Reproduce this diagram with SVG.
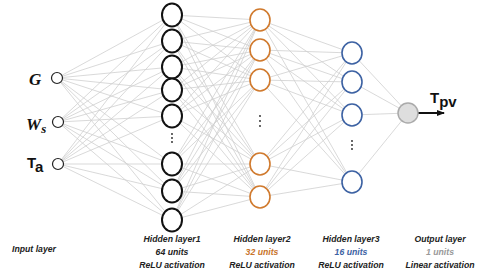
<svg xmlns="http://www.w3.org/2000/svg" width="480" height="275" viewBox="0 0 480 275">
<style>
.ln{stroke:#cfcfcf;stroke-width:0.8;fill:none}
.in{fill:#fff;stroke:#222;stroke-width:1.2}
.h1{fill:#fff;stroke:#111;stroke-width:2}
.h2{fill:#fff;stroke:#d07a2e;stroke-width:1.6}
.h3{fill:#fff;stroke:#3d62a3;stroke-width:1.6}
.out{fill:#dedede;stroke:#aaa;stroke-width:1.5}
.dot{fill:#222}
.lab{font-family:"Liberation Sans",Arial,sans-serif;font-weight:bold;font-style:italic;font-size:8.7px;text-anchor:middle;fill:#222}
.sym{font-family:"Liberation Serif",serif;font-weight:bold;font-style:italic;fill:#111}
.sans{font-family:"Liberation Sans",Arial,sans-serif;font-weight:bold;fill:#111}
</style>
<defs>
<marker id="ah" markerWidth="8" markerHeight="6" refX="7" refY="3" orient="auto" markerUnits="userSpaceOnUse">
<path d="M0,0 L8,3 L0,6 Z" fill="#111"/>
</marker>
</defs>
<g id="connectors">
<!-- input to H1 -->
<path class="ln" d="M57,78L172,15M57,78L172,41M57,78L172,67M57,78L172,90M57,78L172,116M57,78L172,164M57,78L172,191M57,78L172,220
M58,122L172,15M58,122L172,41M58,122L172,67M58,122L172,90M58,122L172,116M58,122L172,164M58,122L172,191M58,122L172,220
M58,164L172,15M58,164L172,41M58,164L172,67M58,164L172,90M58,164L172,116M58,164L172,164M58,164L172,191M58,164L172,220"/>
<!-- H1 to H2 -->
<path class="ln" d="M172,15L260,20M172,15L260,50M172,15L260,80M172,15L260,164M172,15L260,197
M172,41L260,20M172,41L260,50M172,41L260,80M172,41L260,164M172,41L260,197
M172,67L260,20M172,67L260,50M172,67L260,80M172,67L260,164M172,67L260,197
M172,90L260,20M172,90L260,50M172,90L260,80M172,90L260,164M172,90L260,197
M172,116L260,20M172,116L260,50M172,116L260,80M172,116L260,164M172,116L260,197
M172,164L260,20M172,164L260,50M172,164L260,80M172,164L260,164M172,164L260,197
M172,191L260,20M172,191L260,50M172,191L260,80M172,191L260,164M172,191L260,197
M172,220L260,20M172,220L260,50M172,220L260,80M172,220L260,164M172,220L260,197"/>
<!-- H2 to H3 -->
<path class="ln" d="M260,20L352,53M260,20L352,82M260,20L352,115M260,20L352,182
M260,50L352,53M260,50L352,82M260,50L352,115M260,50L352,182
M260,80L352,53M260,80L352,82M260,80L352,115M260,80L352,182
M260,164L352,53M260,164L352,82M260,164L352,115M260,164L352,182
M260,197L352,53M260,197L352,82M260,197L352,115M260,197L352,182"/>
<!-- H3 to output -->
<path class="ln" d="M352,53L408,113M352,82L408,113M352,115L408,113M352,182L408,113"/>
<!-- output arrow -->
<line x1="418" y1="113" x2="444" y2="113" stroke="#111" stroke-width="2" marker-end="url(#ah)"/>
</g>
<g id="input-layer">
<circle class="in" cx="57" cy="78" r="5.5"/>
<circle class="in" cx="58" cy="122" r="5.5"/>
<circle class="in" cx="58" cy="164" r="5.5"/>
<text class="sym" x="29" y="85" font-size="17">G</text>
<text class="sym" x="26" y="130" font-size="17">W<tspan font-size="13" dy="3">s</tspan></text>
<text class="sans" x="27" y="168" font-size="15">T<tspan dy="4">a</tspan></text>
<text class="lab" x="34" y="252">Input layer</text>
</g>
<g id="hidden-layer1">
<ellipse class="h1" cx="172" cy="15" rx="10" ry="11.5"/>
<ellipse class="h1" cx="172" cy="41" rx="10" ry="11.5"/>
<ellipse class="h1" cx="172" cy="67" rx="10" ry="11.5"/>
<ellipse class="h1" cx="172" cy="90" rx="10" ry="11.5"/>
<ellipse class="h1" cx="172" cy="116" rx="10" ry="11.5"/>
<circle class="dot" cx="172" cy="134" r="0.9"/>
<circle class="dot" cx="172" cy="138" r="0.9"/>
<circle class="dot" cx="172" cy="142" r="0.9"/>
<ellipse class="h1" cx="172" cy="164" rx="10" ry="11.5"/>
<ellipse class="h1" cx="172" cy="191" rx="10" ry="11.5"/>
<ellipse class="h1" cx="172" cy="220" rx="10" ry="11.5"/>
<text class="lab" x="172" y="242">Hidden layer1</text>
<text class="lab" x="172" y="255">64 units</text>
<text class="lab" x="172" y="268">ReLU activation</text>
</g>
<g id="hidden-layer2">
<ellipse class="h2" cx="260" cy="20" rx="10" ry="11"/>
<ellipse class="h2" cx="260" cy="50" rx="10" ry="11"/>
<ellipse class="h2" cx="260" cy="80" rx="10" ry="11"/>
<circle class="dot" cx="260" cy="116" r="0.9"/>
<circle class="dot" cx="260" cy="121" r="0.9"/>
<circle class="dot" cx="260" cy="126" r="0.9"/>
<ellipse class="h2" cx="260" cy="164" rx="10" ry="11"/>
<ellipse class="h2" cx="260" cy="197" rx="10" ry="11"/>
<text class="lab" x="262" y="242">Hidden layer2</text>
<text class="lab" x="262" y="255" style="fill:#c8742b">32 units</text>
<text class="lab" x="262" y="268">ReLU activation</text>
</g>
<g id="hidden-layer3">
<ellipse class="h3" cx="352" cy="53" rx="10" ry="11"/>
<ellipse class="h3" cx="352" cy="82" rx="10" ry="11"/>
<ellipse class="h3" cx="352" cy="115" rx="10" ry="11"/>
<circle class="dot" cx="352" cy="141" r="0.9"/>
<circle class="dot" cx="352" cy="145" r="0.9"/>
<circle class="dot" cx="352" cy="149" r="0.9"/>
<ellipse class="h3" cx="352" cy="182" rx="10" ry="11"/>
<text class="lab" x="351" y="242">Hidden layer3</text>
<text class="lab" x="351" y="255" style="fill:#3d62a3">16 units</text>
<text class="lab" x="351" y="268">ReLU activation</text>
</g>
<g id="output-layer">
<circle class="out" cx="408" cy="113" r="10"/>
<text class="sans" x="430" y="103" font-size="15">T<tspan dy="4">pv</tspan></text>
<text class="lab" x="440" y="242">Output layer</text>
<text class="lab" x="440" y="255" style="fill:#999">1 units</text>
<text class="lab" x="440" y="268">Linear activation</text>
</g>
</svg>
